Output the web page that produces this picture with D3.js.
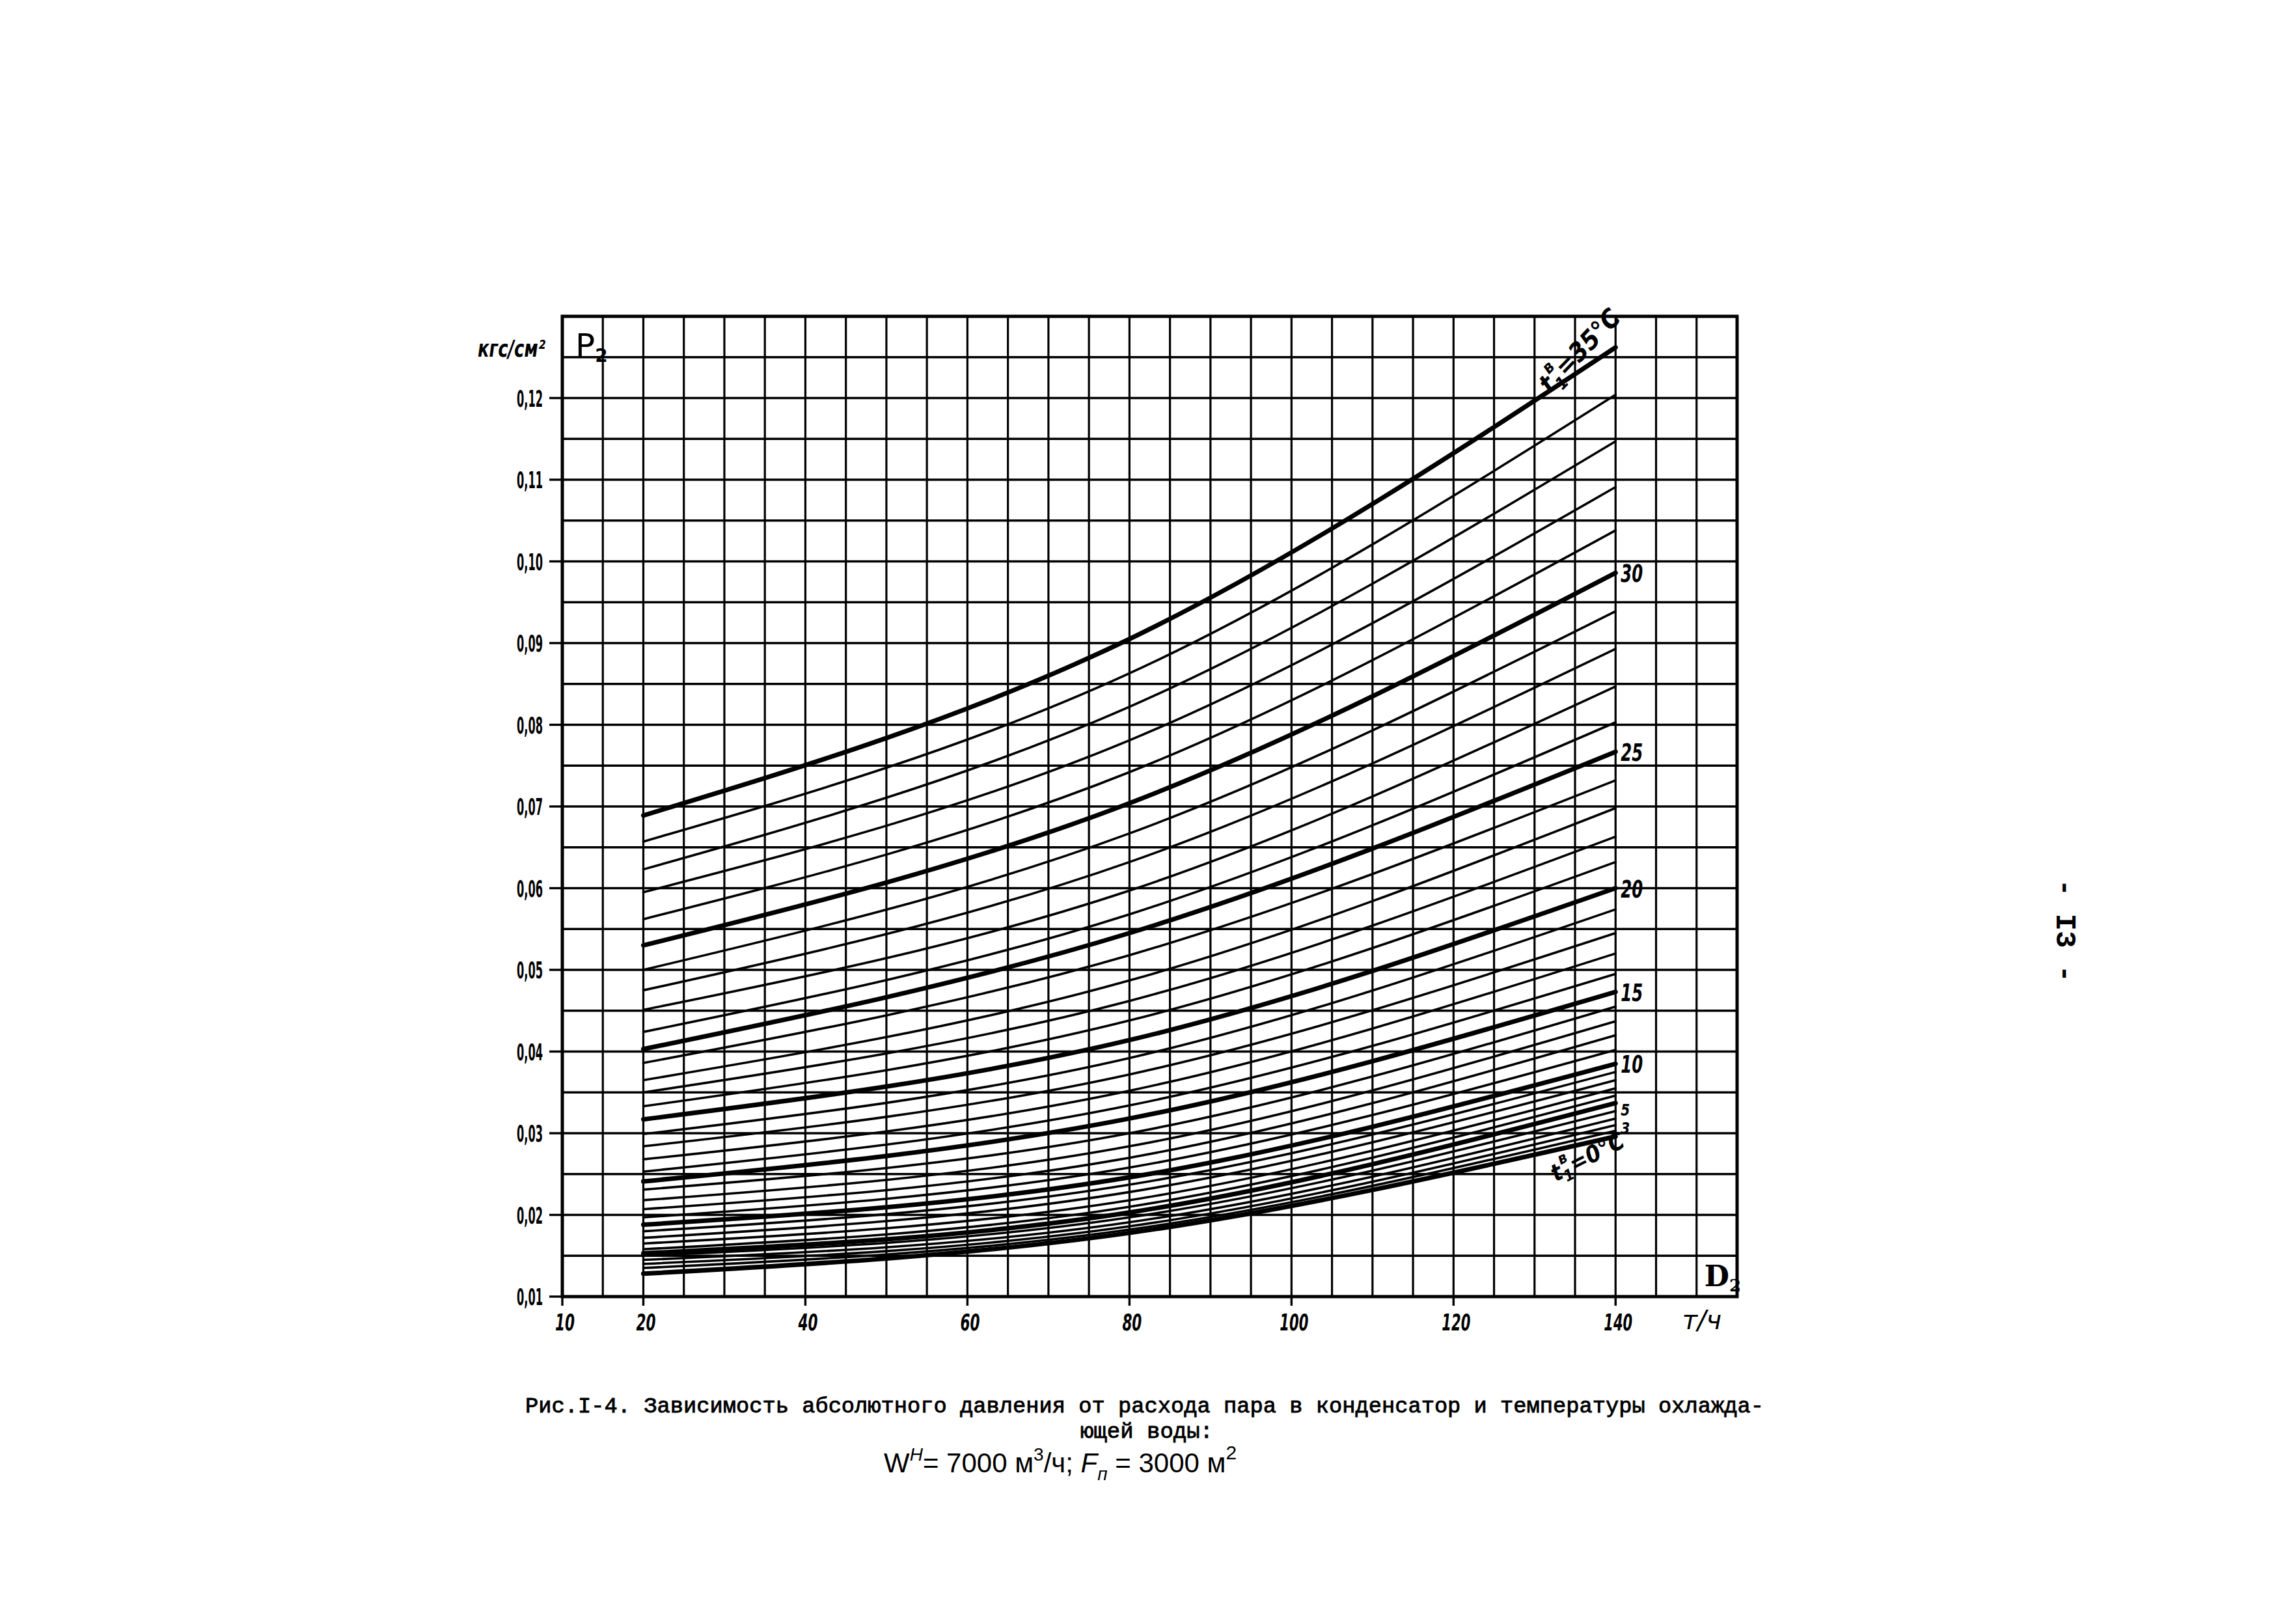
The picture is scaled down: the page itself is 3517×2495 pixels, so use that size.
<!DOCTYPE html>
<html><head><meta charset="utf-8">
<script src="https://cdn.jsdelivr.net/npm/d3@7"></script>
<style>html,body{margin:0;padding:0;background:#fff;} svg{display:block}</style>
</head><body>
<script>
// ---------- data ----------
const xTickValues = [10, 20, 40, 60, 80, 100, 120, 140];
const yTickValues = [0.01, 0.02, 0.03, 0.04, 0.05, 0.06, 0.07, 0.08, 0.09, 0.10, 0.11, 0.12];
const yTickLabels = ["0,01", "0,02", "0,03", "0,04", "0,05", "0,06", "0,07", "0,08", "0,09", "0,10", "0,11", "0,12"];
const tempsC = [0,1,2,3,4,5,6,7,8,9,10,11,12,13,14,15,16,17,18,19,20,21,22,23,24,25,26,27,28,29,30,31,32,33,34,35];
const steamFlow = [20, 80, 140];
const pAt20 = [0.0128,0.0135,0.0140,0.0145,0.0150,0.0153,0.0158,0.0165,0.0172,0.0180,0.0188,0.0197,0.0207,0.0218,0.0231,0.0241,0.0253,0.0268,0.0284,0.0299,0.0317,0.0333,0.0350,0.0365,0.0386,0.0403,0.0424,0.0451,0.0475,0.0500,0.0530,0.0562,0.0595,0.0623,0.0657,0.0689];
const pAt80 = [0.0178,0.0182,0.0186,0.0191,0.0197,0.0203,0.0210,0.0218,0.0228,0.0237,0.0246,0.0258,0.0270,0.0284,0.0300,0.0318,0.0334,0.0352,0.0372,0.0392,0.0414,0.0438,0.0462,0.0487,0.0518,0.0545,0.0568,0.0597,0.0632,0.0667,0.0704,0.0742,0.0781,0.0822,0.0863,0.0905];
const pAt140 = [0.0296,0.0303,0.0310,0.0318,0.0327,0.0337,0.0346,0.0355,0.0365,0.0375,0.0385,0.0402,0.0420,0.0437,0.0455,0.0473,0.0495,0.0520,0.0545,0.0574,0.0600,0.0632,0.0663,0.0698,0.0732,0.0767,0.0803,0.0847,0.0893,0.0939,0.0986,0.1038,0.1091,0.1147,0.1204,0.1262];
const rightLabelTemps = [30, 25, 20, 15, 10];
const smallLabelTemps = [5, 3];
const yUnit = "кгс/см²";
const captionLine1 = "Рис.I-4. Зависимость абсолютного давления от расхода пара в конденсатор и температуры охлажда-";
const captionLine2 = "ющей воды:";
const pageNumber = "- I3 -";

// ---------- layout ----------
const W = 3517, H = 2495;
const svg = d3.select("body").append("svg").attr("width", W).attr("height", H).style("background", "#fff");
const x = d3.scaleLinear().domain([10, 155]).range([864, 2669]);
const y = d3.scaleLinear().domain([0.01, 0.13]).range([1992, 486]);
const ink = "#000";
const tickFont = "'DejaVu Sans Condensed','Liberation Sans Narrow',sans-serif";

// grid
const g = svg.append("g");
g.selectAll("line.v").data(d3.range(10, 155.1, 5)).join("line")
  .attr("x1", d => x(d)).attr("x2", d => x(d)).attr("y1", y(0.01)).attr("y2", y(0.13))
  .attr("stroke", ink).attr("stroke-width", 3.2);
g.selectAll("line.h").data(d3.range(0, 25).map(i => 0.01 + i * 0.005)).join("line")
  .attr("x1", x(10)).attr("x2", x(155)).attr("y1", d => y(d)).attr("y2", d => y(d))
  .attr("stroke", ink).attr("stroke-width", 3.4);
g.append("rect").attr("x", x(10)).attr("y", y(0.13)).attr("width", x(155) - x(10)).attr("height", y(0.01) - y(0.13))
  .attr("fill", "none").attr("stroke", ink).attr("stroke-width", 5);

// axis ticks
g.selectAll("line.yt").data(yTickValues).join("line")
  .attr("x1", x(10) - 20).attr("x2", x(10)).attr("y1", d => y(d)).attr("y2", d => y(d))
  .attr("stroke", ink).attr("stroke-width", 3.4);
g.selectAll("line.xt").data(xTickValues).join("line")
  .attr("x1", d => x(d)).attr("x2", d => x(d)).attr("y1", y(0.01)).attr("y2", y(0.01) + 14)
  .attr("stroke", ink).attr("stroke-width", 3.4);

// tick labels
svg.append("g").selectAll("text").data(yTickValues).join("text")
  .attr("x", x(10) - 30).attr("y", d => y(d) + 13)
  .attr("text-anchor", "end").attr("font-family", tickFont).attr("font-weight", "bold")
  .attr("font-size", 36).attr("textLength", 40).attr("lengthAdjust", "spacingAndGlyphs")
  .text((d, i) => yTickLabels[i]);
svg.append("g").selectAll("text").data(xTickValues).join("text")
  .attr("x", d => x(d) + 4).attr("y", y(0.01) + 52)
  .attr("text-anchor", "middle").attr("font-family", tickFont).attr("font-weight", "bold").attr("font-style", "italic")
  .attr("font-size", 35).attr("textLength", d => d >= 100 ? 44 : 30).attr("lengthAdjust", "spacingAndGlyphs")
  .text(d => d);

// axis units / names
svg.append("text").attr("x", x(150) - 22).attr("y", y(0.01) + 50).attr("font-family", "'DejaVu Sans',sans-serif")
  .attr("font-style", "italic").attr("font-size", 40).text("т/ч");
svg.append("text").attr("x", x(10) - 26).attr("y", y(0.13) + 62).attr("text-anchor", "end")
  .attr("font-family", tickFont).attr("font-weight", "bold").attr("font-style", "italic").attr("font-size", 36)
  .attr("textLength", 104).attr("lengthAdjust", "spacingAndGlyphs").text(yUnit);
svg.append("text").attr("x", x(10) + 20).attr("y", y(0.13) + 62).attr("font-family", "'DejaVu Sans',sans-serif")
  .attr("font-size", 50).html('P<tspan dy="8" font-size="28" font-weight="bold">2</tspan>');
svg.append("text").attr("x", x(150) + 12).attr("y", y(0.01) - 16).attr("font-family", "'DejaVu Serif',serif")
  .attr("font-weight", "bold").attr("font-size", 44).html('D<tspan dy="8" font-size="26">2</tspan>');

// curves
const line = d3.line().x(d => x(d[0])).y(d => y(d[1])).curve(d3.curveMonotoneX);
const series = tempsC.map((t, i) => ({ t, pts: steamFlow.map((f, j) => [f, [pAt20, pAt80, pAt140][j][i]]) }));
svg.append("g").selectAll("path").data(series).join("path")
  .attr("d", d => line(d.pts)).attr("fill", "none").attr("stroke", ink)
  .attr("stroke-width", d => d.t % 5 === 0 ? 7 : 3.6).attr("stroke-linecap", "round");

// curve labels
const lab = svg.append("g").attr("font-family", tickFont).attr("font-weight", "bold").attr("font-style", "italic");
lab.selectAll("text.r").data(rightLabelTemps).join("text")
  .attr("x", x(140) + 8).attr("y", t => y(pAt140[t]) + 14).attr("font-size", 38)
  .attr("textLength", 34).attr("lengthAdjust", "spacingAndGlyphs").text(t => t);
lab.selectAll("text.s").data(smallLabelTemps).join("text")
  .attr("x", x(140) + 8).attr("y", (t, i) => y(pAt140[t]) + (i === 0 ? 19 : 24)).attr("font-size", 24)
  .attr("textLength", 14).attr("lengthAdjust", "spacingAndGlyphs").text(t => t);
lab.append("text").attr("transform", `translate(${x(140) - 101},${y(pAt140[35]) + 72}) rotate(-46)`)
  .attr("font-size", 40).html('t<tspan dy="10" font-size="26">1</tspan><tspan dy="-32" dx="-13" font-size="26">в</tspan><tspan dy="22">=35°C</tspan>');
lab.append("text").attr("transform", `translate(${x(140) - 92},${y(pAt140[0]) + 70}) rotate(-27)`)
  .attr("font-size", 36).html('t<tspan dy="8" font-size="24">1</tspan><tspan dy="-28" dx="-12" font-size="24">в</tspan><tspan dy="20">=0°C</tspan>');

// caption
const mono = "'Liberation Mono','DejaVu Sans Mono',monospace";
svg.append("text").attr("x", 807).attr("y", 2170).attr("font-family", mono).attr("font-size", 34)
  .attr("stroke", ink).attr("stroke-width", 0.9).attr("textLength", 1903).attr("lengthAdjust", "spacingAndGlyphs").text(captionLine1);
svg.append("text").attr("x", 1762).attr("y", 2209).attr("text-anchor", "middle").attr("font-family", mono).attr("font-size", 34)
  .attr("stroke", ink).attr("stroke-width", 0.9).text(captionLine2);
svg.append("text").attr("x", 1358).attr("y", 2262).attr("font-family", "'Liberation Sans',sans-serif").attr("font-size", 42)
  .html('W<tspan dy="-18" font-size="28" font-style="italic">H</tspan><tspan dy="18">= 7000 м</tspan><tspan dy="-18" font-size="28">3</tspan><tspan dy="18">/ч;  </tspan><tspan font-style="italic">F</tspan><tspan dy="12" font-size="28" font-style="italic">п</tspan><tspan dy="-12"> = 3000 м</tspan><tspan dy="-20" font-size="30">2</tspan>');

// page number
svg.append("text").attr("transform", "translate(3160,1430) rotate(90)").attr("text-anchor", "middle")
  .attr("font-family", mono).attr("font-weight", "bold").attr("font-size", 44).text(pageNumber);
</script>
</body></html>
